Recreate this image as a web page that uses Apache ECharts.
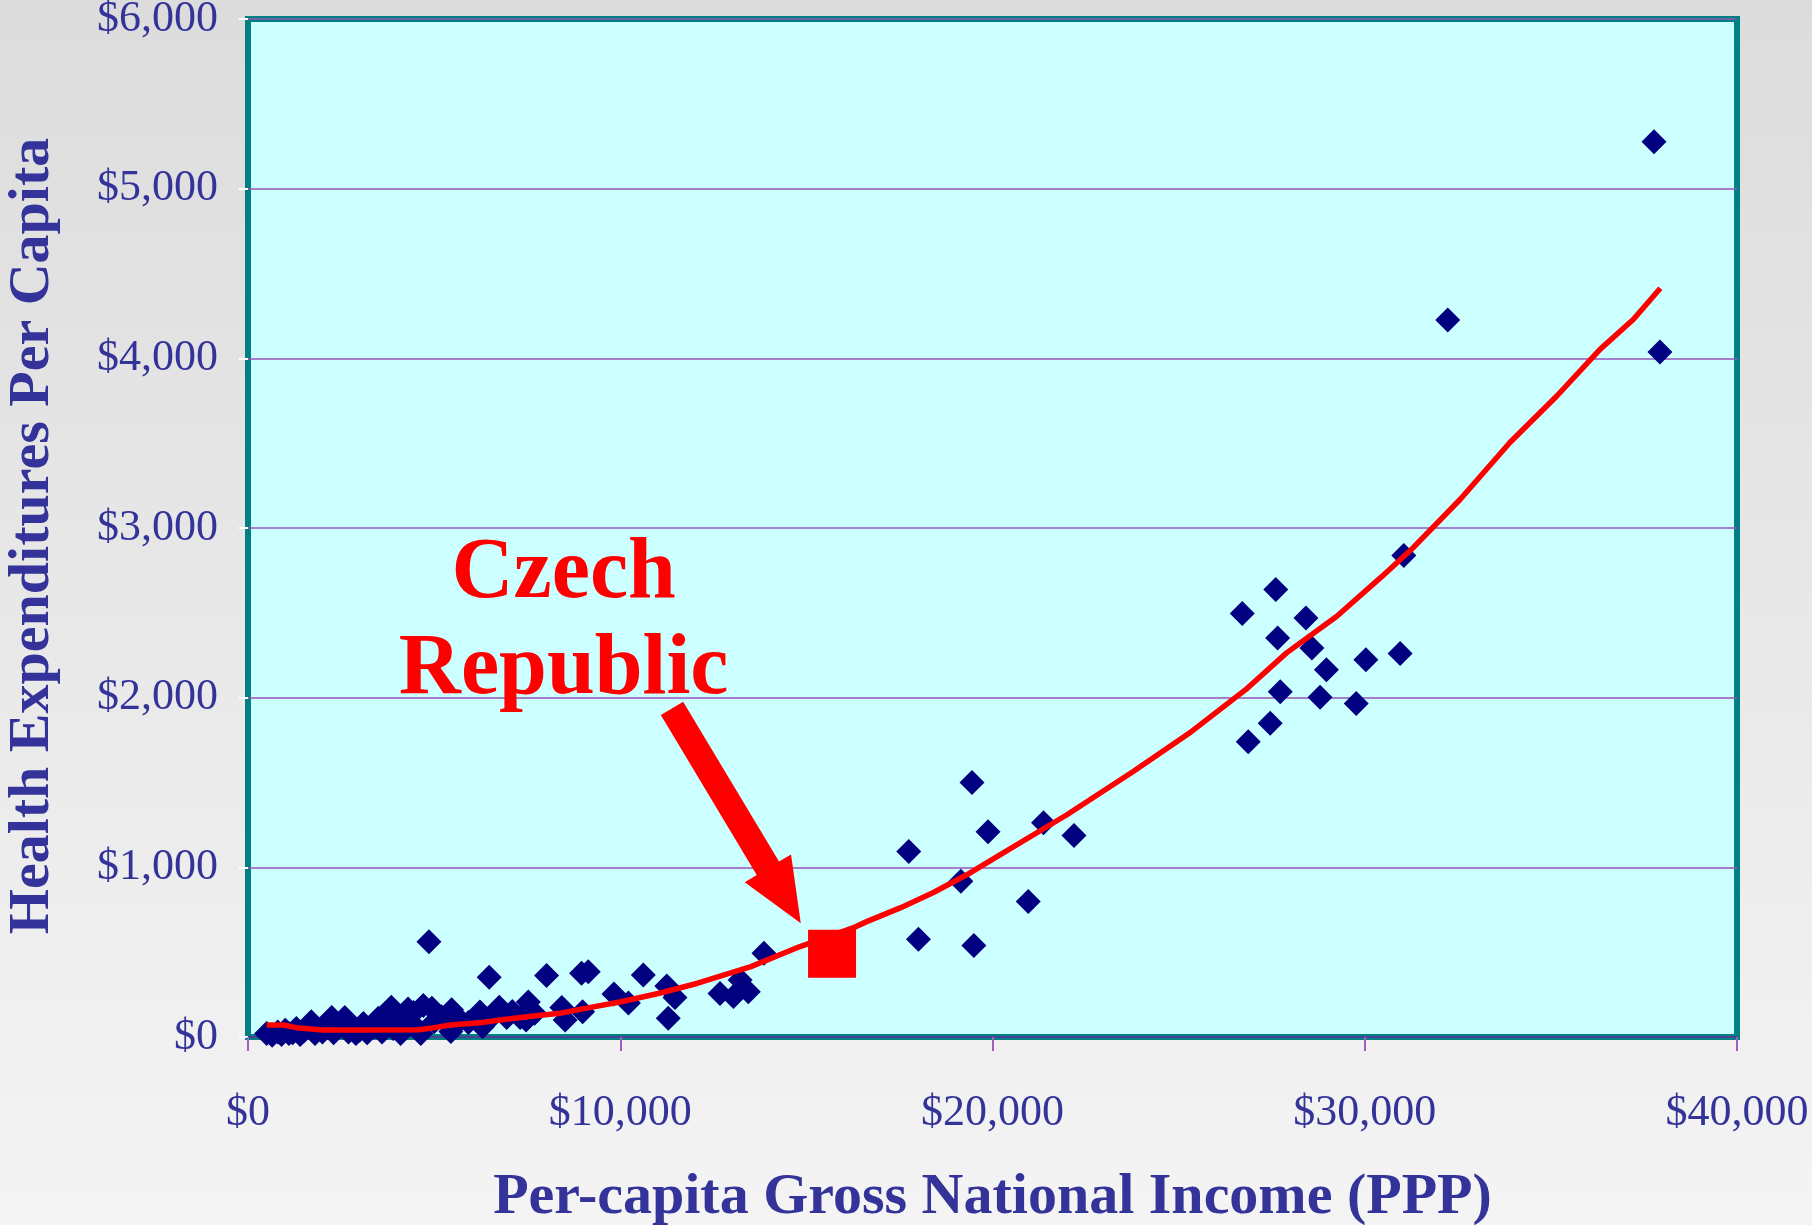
<!DOCTYPE html>
<html>
<head>
<meta charset="utf-8">
<script src="https://cdn.jsdelivr.net/npm/echarts@6/dist/echarts.min.js"></script>
<style>
  html, body { margin: 0; padding: 0; }
  body { background: linear-gradient(to bottom, #dcdcdc 0%, #e8e8e8 50%, #f4f4f4 100%); }
  #chart { width: 1812px; height: 1225px; }
</style>
</head>
<body>
<div id="chart"></div>
<script>
// ---- data ----
const countryIncome = [
  500, 650, 800, 900, 1000, 1100, 1200, 1300, 1400, 1500,
  1700, 1800, 1900, 2000, 2100, 2250, 2300, 2450, 2600, 2700,
  2800, 2900, 3000, 3100, 3200, 3400, 3500, 3600, 3700, 3850,
  3900, 4000, 4100, 4200, 4300, 4450, 4500, 4640, 4710, 4860,
  4940, 5000, 5200, 5450, 5470, 5700, 5920, 6100, 6230, 6300,
  6480, 6600, 6750, 6950, 7100, 7310, 7470, 7530, 7700, 8020,
  8430, 8520, 8990, 8960, 9140, 9830, 10220, 10620, 11250, 11470,
  11290, 12680, 13040, 13220, 13440, 13860, 17750, 18010, 19150, 19450,
  19500, 19880, 20960, 21370, 22190, 26710, 26870, 27460, 27610, 27660,
  27730, 28420, 28580, 28800, 28970, 29770, 30030, 30950, 31050, 32230,
  37770, 37930
];
const countrySpend = [
  20, 10, 30, 15, 40, 20, 25, 50, 15, 35,
  90, 20, 45, 30, 60, 115, 25, 70, 115, 30,
  60, 20, 40, 80, 25, 60, 110, 30, 140, 175,
  50, 100, 20, 135, 165, 145, 60, 20, 185, 562,
  170, 90, 120, 32, 160, 100, 85, 110, 148, 60,
  352, 130, 175, 115, 150, 115, 100, 207, 140, 362,
  174, 100, 149, 376, 385, 254, 200, 366, 300, 233,
  110, 256, 238, 336, 267, 494, 1093, 576, 918, 1500,
  539, 1209, 798, 1263, 1188, 2496, 1740, 1849, 2637, 2352,
  2035, 2470, 2293, 2002, 2165, 1965, 2224, 2260, 2838, 4226,
  5276, 4037
];
const trendIncome = [500, 950, 1300, 2000, 3000, 4600, 4890, 5430, 6230, 6770,
  7670, 8380, 8920, 10020, 11050, 12080, 13510, 14830, 16250, 16620,
  17520, 18400, 19310, 20200, 22000, 23780, 25350, 26800, 27900, 29250,
  30470, 31250, 32560, 33900, 35160, 36320, 37220, 37940];
const trendSpend = [71, 71, 55, 41, 41, 43, 51, 71, 84, 100,
  124, 140, 163, 208, 258, 317, 415, 533, 643, 680,
  761, 850, 956, 1074, 1310, 1565, 1801, 2047, 2264, 2480,
  2716, 2873, 3168, 3504, 3778, 4053, 4230, 4413];
const czechIncome = 15690;
const czechSpend = 490;
const xTicks = [0, 10000, 20000, 30000, 40000];
const yTicks = [0, 1000, 2000, 3000, 4000, 5000, 6000];
const annotationLines = ['Czech', 'Republic'];
// annotation anchors in data units
const labelAnchor = [8480, 2725];
const arrowTail = [11390, 1937];
const arrowTip = [14850, 671];

const FONT = '"Liberation Serif", "Times New Roman", serif';
const TXT = '#333399';
const money = v => '$' + Number(v).toLocaleString('en-US');

const chart = echarts.init(document.getElementById('chart'), null, { renderer: 'canvas' });

const option = {
  backgroundColor: 'transparent',
  animation: false,
  grid: {
    left: 248, top: 19, width: 1489, height: 1018,
    show: true, backgroundColor: '#ccffff',
    borderColor: '#008080', borderWidth: 6,
    containLabel: false,
    outerBoundsMode: 'none'
  },
  xAxis: {
    type: 'value', min: xTicks[0], max: xTicks[xTicks.length - 1], interval: 10000,
    name: 'Per-capita Gross National Income (PPP)',
    nameLocation: 'middle', nameGap: 132,
    nameTextStyle: { fontFamily: FONT, fontWeight: 'bold', fontSize: 58, color: TXT },
    axisLine: { show: true, onZero: false, lineStyle: { color: '#4b3f9a', width: 2 } },
    axisTick: { show: true, inside: false, length: 14, lineStyle: { color: '#a060c0', width: 2 } },
    axisLabel: { margin: 54, fontFamily: FONT, fontSize: 44, color: TXT, formatter: money },
    splitLine: { show: false }
  },
  yAxis: {
    type: 'value', min: yTicks[0], max: yTicks[yTicks.length - 1], interval: 1000,
    name: 'Health Expenditures Per Capita',
    nameLocation: 'middle', nameGap: 186, nameRotate: 90,
    nameTextStyle: { fontFamily: FONT, fontWeight: 'bold', fontSize: 58, color: TXT, padding: [0, 16, 0, 0] },
    axisLine: { show: false },
    axisTick: { show: true, inside: false, length: 9, lineStyle: { color: '#ffffff', width: 2 } },
    axisLabel: { margin: 30, fontFamily: FONT, fontSize: 44, color: TXT, formatter: money },
    splitLine: { show: true, lineStyle: { color: '#9955bb', width: 1.5 } }
  },
  series: [
    {
      name: 'Countries', type: 'scatter', symbol: 'diamond', symbolSize: 25,
      itemStyle: { color: '#000080', opacity: 1 },
      data: countryIncome.map((x, i) => [x, countrySpend[i]]),
      z: 2
    },
    {
      name: 'Trend', type: 'line', showSymbol: false, smooth: false,
      lineStyle: { color: '#ff0000', width: 5.5, opacity: 1 },
      data: trendIncome.map((x, i) => [x, trendSpend[i]]),
      z: 3
    },
    {
      name: 'Czech Republic', type: 'scatter', symbol: 'rect', symbolSize: 48,
      itemStyle: { color: '#ff0000', opacity: 1 },
      data: [[czechIncome, czechSpend]],
      z: 4
    }
  ]
};
chart.setOption(option);

// annotation: text + arrow placed from data anchors
function px(p) { return chart.convertToPixel({ gridIndex: 0 }, p); }
const a = px(labelAnchor);
const t0 = px(arrowTail), t1 = px(arrowTip);
const dx = t1[0] - t0[0], dy = t1[1] - t0[1];
const len = Math.hypot(dx, dy);
const ux = dx / len, uy = dy / len, nx = -uy, ny = ux;
const hw = 13, hh = 27, hl = 64;
const bx = t1[0] - ux * hl, by = t1[1] - uy * hl;
const arrowPts = [
  [t0[0] + nx * hw, t0[1] + ny * hw],
  [bx + nx * hw, by + ny * hw],
  [bx + nx * hh, by + ny * hh],
  [t1[0], t1[1]],
  [bx - nx * hh, by - ny * hh],
  [bx - nx * hw, by - ny * hw],
  [t0[0] - nx * hw, t0[1] - ny * hw]
];
chart.setOption({
  graphic: [
    {
      type: 'text', x: a[0], y: a[1], z: 10,
      style: {
        text: annotationLines[0], fill: '#ff0000',
        font: 'bold 86px ' + FONT, textAlign: 'center', textVerticalAlign: 'middle'
      }
    },
    {
      type: 'text', x: a[0], y: a[1] + 96, z: 10,
      style: {
        text: annotationLines[1], fill: '#ff0000',
        font: 'bold 86px ' + FONT, textAlign: 'center', textVerticalAlign: 'middle'
      }
    },
    {
      type: 'polygon', z: 10,
      shape: { points: arrowPts },
      style: { fill: '#ff0000' }
    }
  ]
});
</script>
</body>
</html>
